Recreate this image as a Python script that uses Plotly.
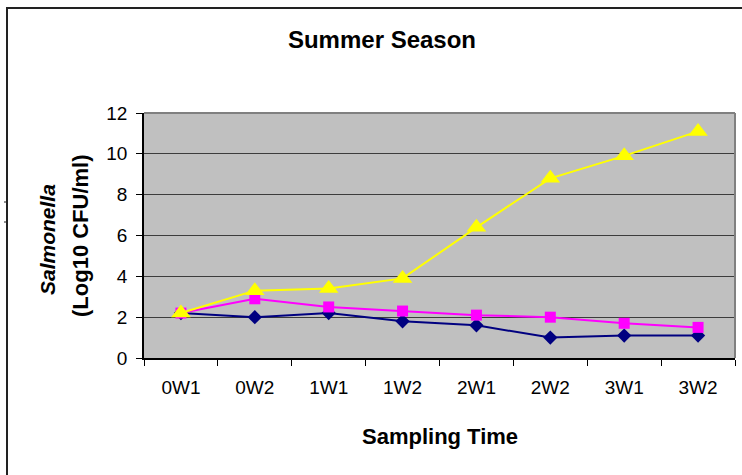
import plotly.graph_objects as go

# Sampling points and Salmonella counts (Log10 CFU/ml)
sampling_time = ["0W1", "0W2", "1W1", "1W2", "2W1", "2W2", "3W1", "3W2"]
series_navy = [2.2, 2.0, 2.2, 1.8, 1.6, 1.0, 1.1, 1.1]
series_magenta = [2.2, 2.9, 2.5, 2.3, 2.1, 2.0, 1.7, 1.5]
series_yellow = [2.2, 3.3, 3.4, 3.9, 6.4, 8.8, 9.9, 11.1]

W, H = 742, 475
L, R, T, B = 144, 7, 113, 117
PW, PH = W - L - R, H - T - B
FONT = "Arial, Liberation Sans, sans-serif"


def px_x(px):
    return (px - L) / PW


def px_y(py):
    return (H - B - py) / PH


fig = go.Figure()
fig.add_trace(go.Scatter(
    x=sampling_time, y=series_navy, mode="lines+markers",
    line=dict(color="#000080", width=2),
    marker=dict(symbol="diamond", size=11, color="#000080"),
))
fig.add_trace(go.Scatter(
    x=sampling_time, y=series_magenta, mode="lines+markers",
    line=dict(color="#FF00FF", width=2),
    marker=dict(symbol="square", size=11, color="#FF00FF"),
))
fig.add_trace(go.Scatter(
    x=sampling_time, y=series_yellow, mode="lines+markers",
    line=dict(color="#FFFF00", width=2),
    marker=dict(symbol="triangle-up", size=17, color="#FFFF00"),
))

shapes = [
    # grey frame on the top and right of the plotting area
    dict(type="line", xref="paper", yref="paper", x0=0, y0=1, x1=1, y1=1,
         line=dict(color="#808080", width=2)),
    dict(type="line", xref="paper", yref="paper", x0=1, y0=0, x1=1, y1=1,
         line=dict(color="#808080", width=2)),
    # outer chart border
    dict(type="rect", xref="paper", yref="paper",
         x0=px_x(7), y0=px_y(520), x1=px_x(800), y1=px_y(8),
         line=dict(color="#222222", width=2), layer="below"),
    dict(type="line", xref="paper", yref="paper",
         x0=px_x(4), y0=px_y(202), x1=px_x(7), y1=px_y(202),
         line=dict(color="#222222", width=1)),
    dict(type="line", xref="paper", yref="paper",
         x0=px_x(4), y0=px_y(222), x1=px_x(7), y1=px_y(222),
         line=dict(color="#222222", width=1)),
]

annotations = [
    dict(text="<b>Sampling Time</b>", xref="paper", yref="paper",
         x=0.5, y=px_y(436), xanchor="center", yanchor="middle",
         showarrow=False, font=dict(family=FONT, size=22, color="black")),
    dict(text="<b><i>Salmonella</i></b>", xref="paper", yref="paper",
         x=px_x(47), y=px_y(240), xanchor="center", yanchor="middle",
         textangle=-90, showarrow=False,
         font=dict(family=FONT, size=21, color="black")),
    dict(text="<b>(Log10 CFU/ml)</b>", xref="paper", yref="paper",
         x=px_x(80), y=px_y(236), xanchor="center", yanchor="middle",
         textangle=-90, showarrow=False,
         font=dict(family=FONT, size=22, color="black")),
]

fig.update_layout(
    width=W, height=H,
    margin=dict(l=L, r=R, t=T, b=B, pad=0),
    paper_bgcolor="white", plot_bgcolor="#C0C0C0",
    showlegend=False,
    title=dict(text="<b>Summer Season</b>", x=382 / W, y=1 - 40 / H,
               xanchor="center", yanchor="middle", xref="container", yref="container",
               font=dict(family=FONT, size=24, color="black")),
    font=dict(family=FONT, size=19, color="black"),
    shapes=shapes,
    annotations=annotations,
)

fig.update_xaxes(
    type="category", categoryorder="array", categoryarray=sampling_time,
    range=[-0.5, len(sampling_time) - 0.5],
    showline=True, linecolor="black", linewidth=1.5,
    ticks="outside", tickson="boundaries", ticklen=6, tickcolor="black",
    ticklabelstandoff=11,
    showgrid=False, zeroline=False,
    tickfont=dict(family=FONT, size=19, color="black"),
)
fig.update_yaxes(
    range=[0, 12], dtick=2, tick0=0,
    showline=True, linecolor="black", linewidth=1.5,
    ticks="outside", ticklen=6, tickcolor="black",
    ticklabelstandoff=5,
    showgrid=True, gridcolor="#3c3c3c", gridwidth=1,
    zeroline=False,
    tickfont=dict(family=FONT, size=19, color="black"),
)

fig.write_html("out.html")
